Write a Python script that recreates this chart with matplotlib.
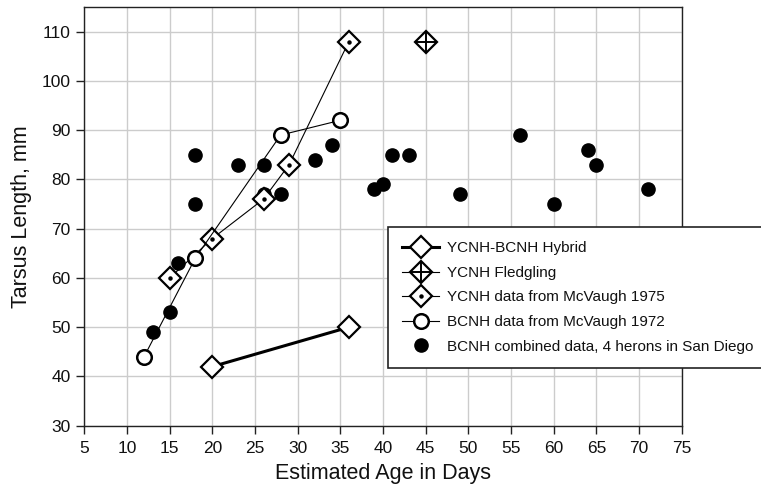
import matplotlib
matplotlib.use('Agg')
from matplotlib import pyplot as plt

# hybrid chick
hybrid_age = [20, 36]
hybrid_tarsus = [42, 50]

# YCNH fledgling
fledge_age = [45]
fledge_tarsus = [108]

# YCNH, McVaugh 1975
ycnh_age = [15, 20, 26, 29, 36]
ycnh_tarsus = [60, 68, 76, 83, 108]

# BCNH, McVaugh 1972
bcnh_age = [12, 18, 28, 35]
bcnh_tarsus = [44, 64, 89, 92]

# BCNH combined, 4 herons in San Diego
sd_age = [13, 15, 16, 18, 18, 23, 26, 26, 28, 32, 34, 39, 40, 41, 43, 49, 56, 60, 64, 65, 71]
sd_tarsus = [49, 53, 63, 75, 85, 83, 83, 77, 77, 84, 87, 78, 79, 85, 85, 77, 89, 75, 86, 83, 78]

xticks = list(range(5, 80, 5))
yticks = list(range(30, 120, 10))

plt.rcParams['font.family'] = ['Liberation Sans', 'DejaVu Sans']

fig = plt.figure(figsize=(7.61, 4.91), dpi=100)
ax = fig.add_axes([0.1108, 0.1330, 0.7850, 0.8527])

dark = '#222222'

l_hyb, = ax.plot(hybrid_age, hybrid_tarsus, '-', color='black', lw=2.2,
                 marker='D', ms=11.5, mfc='white', mec='black', mew=1.6, zorder=4)

l_fl, = ax.plot(fledge_age, fledge_tarsus, '-', color='black', lw=0.8,
                marker='D', ms=11, mfc='white', mec='black', mew=1.6, zorder=4)
l_fl2, = ax.plot(fledge_age, fledge_tarsus, ls='none', marker='+', ms=15,
                 mec='black', mew=1.4, zorder=5)

l_yc, = ax.plot(ycnh_age, ycnh_tarsus, '-', color='black', lw=0.8,
                marker='D', ms=11.5, mfc='white', mec='black', mew=1.6, zorder=4)
l_yc2, = ax.plot(ycnh_age, ycnh_tarsus, ls='none', marker='o', ms=2.2,
                 mfc='black', mec='black', zorder=5)

l_bc, = ax.plot(bcnh_age, bcnh_tarsus, '-', color='black', lw=0.8,
                marker='o', ms=10.5, mfc='white', mec='black', mew=1.8, zorder=4)

l_sd, = ax.plot(sd_age, sd_tarsus, ls='none', marker='o', ms=9.5,
                mfc='black', mec='black', zorder=3)

ax.set_xlim(5, 75)
ax.set_ylim(30, 115)
ax.set_xticks(xticks)
ax.set_yticks(yticks)
ax.grid(True, color='#cccccc', lw=1.0)
ax.set_axisbelow(True)
for s in ax.spines.values():
    s.set_color(dark)
    s.set_linewidth(1.0)
ax.tick_params(direction='out', length=6, width=1.0, color=dark,
               labelsize=12.5, labelcolor='#111111')
ax.tick_params(axis='x', pad=5)
ax.tick_params(axis='y', pad=4)

ax.set_xlabel('Estimated Age in Days', fontsize=15.5, color='#111111', labelpad=5)
ax.set_ylabel('Tarsus Length, mm', fontsize=15.5, color='#111111', labelpad=7)

handles = [l_hyb, (l_fl, l_fl2), (l_yc, l_yc2), l_bc, l_sd]
labels = ['YCNH-BCNH Hybrid', 'YCNH Fledgling', 'YCNH data from McVaugh 1975',
          'BCNH data from McVaugh 1972', 'BCNH combined data, 4 herons in San Diego']
leg = ax.legend(handles, labels, loc='upper left', bbox_to_anchor=(0.508, 0.475),
                fontsize=11, frameon=True, fancybox=False, framealpha=1,
                edgecolor=dark, handlelength=2.4, handletextpad=0.5,
                labelspacing=0.69, borderpad=0.95, borderaxespad=0)
leg.get_frame().set_linewidth(1.2)
for t in leg.get_texts():
    t.set_color('#111111')

fig.savefig('out.png', dpi=100)
